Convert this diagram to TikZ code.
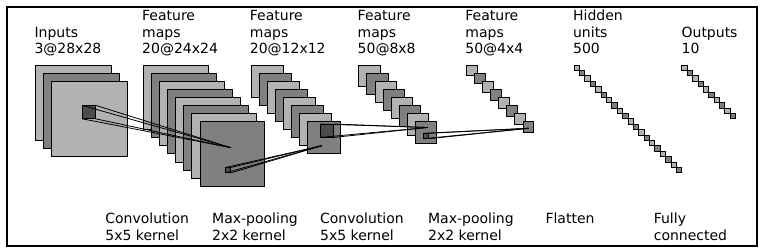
\documentclass[tikz,border=0pt]{standalone}
\usepackage{fontspec}
\setmainfont{DejaVu Sans}
\begin{document}
\begin{tikzpicture}[x=1pt,y=-1pt,
  fmap/.style={draw=black,line width=0.8pt},
  patch/.style={draw=black,line width=0.8pt,fill=black!70},
  link/.style={draw=black,line width=0.8pt},
  lbl/.style={inner sep=0pt,anchor=base west,align=left,font=\fontsize{14}{16.8}\selectfont},
]
\useasboundingbox (0,0) rectangle (767,251);
\draw[line width=2pt] (7.3,7) rectangle (756.7,245.5);

% layers: x0, size, step, count
\foreach \xo/\sz/\st/\n in {35.7/75.4/8.077/3, 143.4/64.6/8.077/8, 251.1/32.3/8.077/8,
                            358.8/21.5/8.077/8, 466.4/10.8/8.077/8,
                            574.1/5.385/5.385/20, 681.8/5.385/5.385/10}{
  \pgfmathtruncatemacro{\last}{\n-1}
  \foreach \k in {0,...,\last}{
    \pgfmathtruncatemacro{\g}{mod(\k,2)==0 ? 30 : 50}
    \draw[fmap,fill=black!\g] ({\xo+\k*\st},{65+\k*\st}) rectangle ++(\sz,\sz);
  }
}

% mapping 1: convolution 5x5
\coordinate (p1a) at (82,105.3);
\coordinate (p1b) at (95.46,105.3);
\coordinate (p1c) at (82,118.76);
\coordinate (p1d) at (95.46,118.76);
\coordinate (e1) at (231,147.7);
% mapping 2: max-pooling 2x2
\coordinate (p2a) at (225.5,167.5);
\coordinate (p2b) at (230.885,167.5);
\coordinate (p2c) at (225.5,172.885);
\coordinate (p2d) at (230.885,172.885);
\coordinate (e2) at (321.7,145.7);
% mapping 3: convolution 5x5
\coordinate (p3a) at (320,124);
\coordinate (p3b) at (333.46,124);
\coordinate (p3c) at (320,137.46);
\coordinate (p3d) at (333.46,137.46);
\coordinate (e3) at (427.5,127.5);
% mapping 4: max-pooling 2x2
\coordinate (p4a) at (423.5,133.3);
\coordinate (p4b) at (428.885,133.3);
\coordinate (p4c) at (423.5,138.685);
\coordinate (p4d) at (428.885,138.685);
\coordinate (e4) at (528.5,128.3);

\foreach \m in {1,2,3,4}{
  \draw[patch] (p\m a) rectangle (p\m d);
}
\foreach \m in {1,2,3,4}{
  \draw[link] (p\m a) -- (e\m);
  \draw[link] (p\m b) -- (e\m);
  \draw[link] (p\m c) -- (e\m);
  \draw[link] (p\m d) -- (e\m);
}

% top labels (anchor at baseline of last line)
\node[lbl] (tin) at (34.3,54) {Inputs\\3@28x28};
\node[lbl] (tf1) at (142,54) {Feature\\maps\\20@24x24};
\node[lbl] (tf2) at (249.7,54) {Feature\\maps\\20@12x12};
\node[lbl] (tf3) at (357.5,54) {Feature\\maps\\50@8x8};
\node[lbl] (tf4) at (465.2,54) {Feature\\maps\\50@4x4};
\node[lbl] (thu) at (572.9,54) {Hidden\\units\\500};
\node[lbl] (tout) at (681.4,54) {Outputs\\10};

% bottom labels
\node[lbl] (bc1) at (105.2,240) {Convolution\\5x5 kernel};
\node[lbl] (bp1) at (212,240) {Max-pooling\\2x2 kernel};
\node[lbl] (bc2) at (319.9,240) {Convolution\\5x5 kernel};
\node[lbl] (bp2) at (427.9,240) {Max-pooling\\2x2 kernel};
\node[lbl] (bfl) at (545.3,223.3) {Flatten};
\node[lbl] (bfc) at (653.6,240) {Fully\\connected};
\end{tikzpicture}
\end{document}
